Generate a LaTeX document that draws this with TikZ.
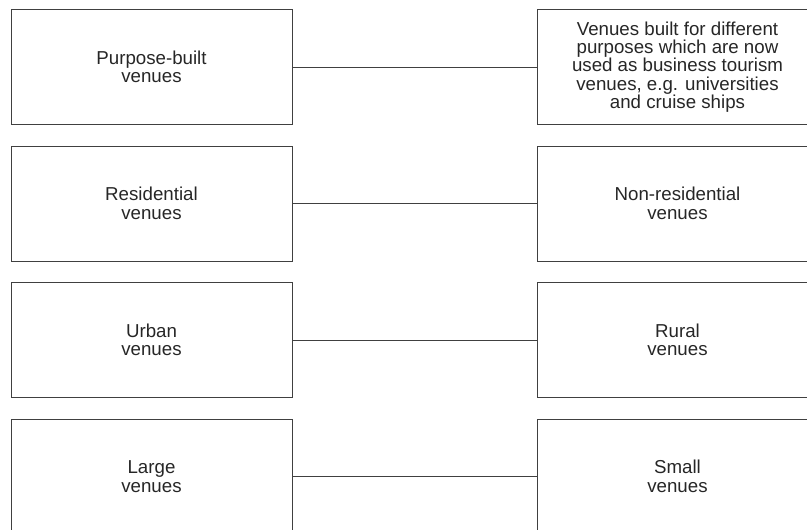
\documentclass[tikz,border=0pt]{standalone}
\usepackage{fontspec}
\setmainfont{Liberation Sans}
\begin{document}
\begin{tikzpicture}[
  x=1pt, y=-1pt,
  venue/.style={draw=black!75, line width=1pt, minimum width=281pt, minimum height=115pt,
    inner sep=0pt, align=center, text=black!85, font=\fontsize{18.7}{18.4}\selectfont},
  link/.style={draw=black!75, line width=1pt},
]
%general params
\def\lx{151.5} %left column
\def\rx{677.5} %right column

%page
\useasboundingbox (0,0) rectangle (807,530);

%row 1
\node[venue] (purpose) at (\lx, 67) {Purpose-built\\venues};
\node[venue] (other) at (\rx, 67) {Venues built for different\\purposes which are now\\used as business tourism\\venues, e.g. universities\\and cruise ships};
\draw[link] (purpose) -- (other);

%row 2
\node[venue] (resid) at (\lx, 203.5) {Residential\\venues};
\node[venue] (nonresid) at (\rx, 203.5) {Non-residential\\venues};
\draw[link] (resid) -- (nonresid);

%row 3
\node[venue] (urban) at (\lx, 340) {Urban\\venues};
\node[venue] (rural) at (\rx, 340) {Rural\\venues};
\draw[link] (urban) -- (rural);

%row 4
\node[venue] (large) at (\lx, 476.5) {Large\\venues};
\node[venue] (small) at (\rx, 476.5) {Small\\venues};
\draw[link] (large) -- (small);

\end{tikzpicture}
\end{document}
